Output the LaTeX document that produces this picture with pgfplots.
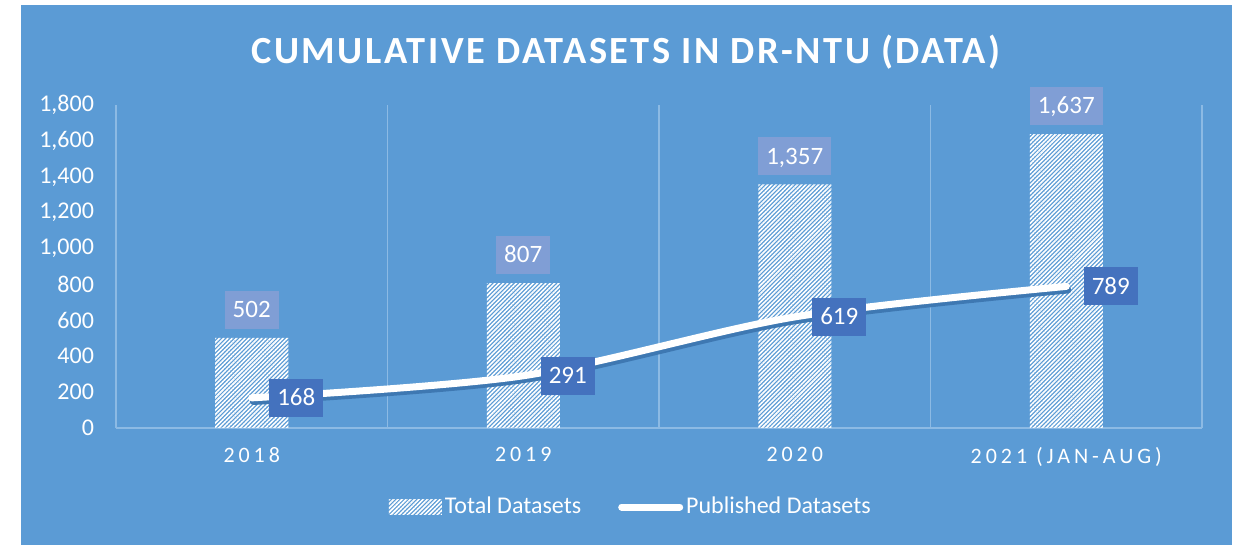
\documentclass[border=0pt]{standalone}
\usepackage{fontspec}
\setmainfont{Carlito}
\newfontfamily\spaced[LetterSpace=18]{Carlito}
\newfontfamily\titlefont[LetterSpace=6.5]{Carlito}
\usepackage{pgfplots}
\pgfplotsset{compat=1.18}
\usetikzlibrary{patterns.meta}
\definecolor{bg}{RGB}{91,155,213}
\definecolor{gridc}{RGB}{140,186,228}
\definecolor{labA}{RGB}{128,158,213}
\definecolor{labB}{RGB}{68,114,190}
\definecolor{shadowc}{RGB}{62,120,178}
\begin{document}
\begin{tikzpicture}
\fill[white] (0,0) rectangle (619pt,272.5pt);
\fill[bg] (10.5pt,0) rectangle (616pt,270pt);
\node[text=white,font=\titlefont\bfseries\fontsize{19.2}{22}\selectfont] at (313pt,246.5pt) {CUMULATIVE DATASETS IN DR-NTU (DATA)};
\begin{axis}[
  at={(58pt,58.5pt)}, anchor=south west, scale only axis,
  width=543pt, height=161.5pt,
  xmin=-0.5, xmax=3.5, ymin=0, ymax=1800,
  clip=false,
  axis x line*=bottom, axis y line*=left,
  x axis line style={draw=gridc, line width=0.8pt, -},
  y axis line style={draw=none},
  xtick={0,1,2,3},
  xticklabels={2018,2019,2020,2021 (JAN-AUG)},
  minor xtick={-0.5,0.5,1.5,2.5,3.5},
  xminorgrids=true,
  minor grid style={draw=gridc, line width=0.8pt},
  ytick={0,200,...,1800},
  major tick length=0pt, minor tick length=0pt,
  /pgf/number format/.cd, 1000 sep={,}, assume math mode=true, /pgfplots/.cd,
  tick label style={text=white, font=\fontsize{12}{14}\selectfont},
  xticklabel style={font=\spaced\fontsize{11}{13}\selectfont, yshift=-6pt},
  yticklabel style={xshift=-7.5pt},
  legend columns=2,
  legend style={at={(0.4745,-0.2446)}, anchor=center, draw=none, fill=none,
    text=white, font=\fontsize{12}{14}\selectfont,
    nodes={inner sep=1.5pt},
    /tikz/every even column/.append style={column sep=17pt}},
]
\addplot[ybar, bar width=36.5pt, draw=none,
  pattern={Lines[angle=45,distance=1.5pt,line width=0.8pt]}, pattern color=white,
  nodes near coords,
  nodes near coords style={fill=labA, text=white, inner xsep=4pt, inner ysep=5.5pt,
    text height=8pt, text depth=0pt, anchor=south, yshift=4.5pt, font=\fontsize{12.5}{14}\selectfont},
  legend image code/.code={\fill[pattern={Lines[angle=45,distance=1.5pt,line width=0.8pt]}, pattern color=white] (0pt,-3.5pt) rectangle (26.5pt,3.5pt);}
] coordinates {(0,502) (1,807) (2,1357) (3,1637)};
\addlegendentry{Total Datasets}
\addplot[shadowc, line width=3.5pt, smooth, line cap=round, shift={(0.8pt,-1.8pt)}, forget plot]
  coordinates {(0,168) (1,291) (2,619) (3,789)};
\addplot[white, line width=3.5pt, smooth, line cap=round,
  nodes near coords,
  nodes near coords style={fill=labB, text=white, inner xsep=4pt, inner ysep=5.5pt,
    text height=8pt, text depth=0pt, anchor=west, xshift=7pt, font=\fontsize{12.5}{14}\selectfont},
  legend image code/.code={\draw[white, line width=3.5pt, line cap=round] (0pt,0pt) -- (29pt,0pt);}
] coordinates {(0,168) (1,291) (2,619) (3,789)};
\addlegendentry{Published Datasets}
\end{axis}
\end{tikzpicture}
\end{document}
